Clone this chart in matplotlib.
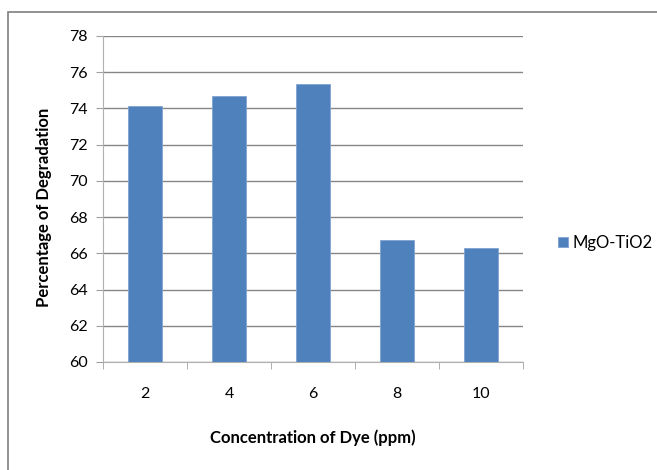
import matplotlib.pyplot as plt
from matplotlib.patches import Rectangle

# данные с графика
conc = ['2', '4', '6', '8', '10']
degradation = [74.14, 74.66, 75.34, 66.72, 66.28]
series_name = 'MgO-TiO2'
y_ticks = [60, 62, 64, 66, 68, 70, 72, 74, 76, 78]

W, H = 657, 470
fig = plt.figure(figsize=(W / 100, H / 100), dpi=100)
plt.rcParams['font.family'] = ['Lato', 'DejaVu Sans']

# рамка вокруг диаграммы (правый и нижний край обрезаны)
fig.patches.append(Rectangle((8 / W, -0.1), 1.2, 1.1 - 12 / H,
                             transform=fig.transFigure, fill=False,
                             edgecolor='#7f7f7f', linewidth=1.2))

ax = fig.add_axes([103 / W, 1 - 362 / H, (523 - 103) / W, (362 - 36) / H])
x = list(range(len(conc)))
ax.bar(x, degradation, width=0.4, color='#4f81bd', edgecolor='#7fa3d1',
       linewidth=0.6, label=series_name, zorder=3)

ax.set_ylim(60, 78)
ax.set_xlim(-0.5, len(conc) - 0.5)
ax.set_yticks(y_ticks)
ax.set_yticklabels([str(v) for v in y_ticks], fontsize=11.5)
ax.set_xticks(x)
ax.set_xticklabels(conc, fontsize=11.5)
ax.tick_params(axis='x', length=0, pad=18)
ax.tick_params(axis='y', length=5, color='#a0a0a0', pad=6)
# засечки на границах категорий
ax.set_xticks([i - 0.5 for i in range(len(conc) + 1)], minor=True)
ax.tick_params(axis='x', which='minor', length=5, color='#a0a0a0')

ax.grid(axis='y', color='#868686', linewidth=1, zorder=0)
for s in ['top', 'right']:
    ax.spines[s].set_visible(False)
ax.spines['left'].set_color('#b0b0b0')
ax.spines['bottom'].set_color('#b0b0b0')

ax.set_ylabel('Percentage of Degradation', fontsize=12, fontweight='bold', labelpad=10)
ax.yaxis.set_label_coords(44 / W, 0.5, transform=fig.transFigure)
ax.set_xlabel('Concentration of Dye (ppm)', fontsize=12, fontweight='bold')
ax.xaxis.set_label_coords(0.5, 1 - 438 / H, transform=fig.transFigure)
ax.xaxis.label.set_x(313 / W)
ax.xaxis.label.set_verticalalignment('center')
ax.yaxis.label.set_verticalalignment('center')
ax.yaxis.label.set_y(1 - 207 / H)

ax.legend(loc='center left', bbox_to_anchor=(543 / W, 1 - 243 / H),
          bbox_transform=fig.transFigure, frameon=False, fontsize=12,
          handlelength=0.6, handleheight=0.6, handletextpad=0.3)

fig.savefig('out.png', dpi=100)
